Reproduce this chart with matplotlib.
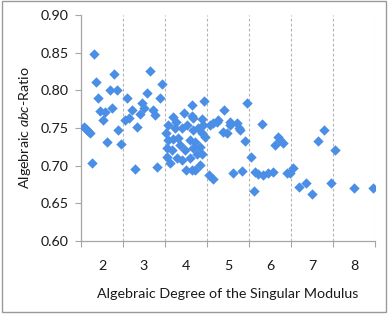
import matplotlib
matplotlib.use("Agg")
import matplotlib.pyplot as plt
from matplotlib.patches import Rectangle
from matplotlib.ticker import FixedLocator, NullFormatter

plt.rcParams['font.family'] = ['Lato', 'DejaVu Sans']
plt.rcParams['mathtext.fontset'] = 'custom'
plt.rcParams['mathtext.rm'] = 'Lato'
plt.rcParams['mathtext.it'] = 'Lato:italic'

degree = [1.57, 1.62, 1.67, 1.71, 1.76, 1.82, 1.86, 1.91, 1.96, 2.08, 2.02, 2.23, 2.18, 2.35, 2.29,
          2.13, 2.39, 2.45, 2.54, 2.64, 2.60, 2.72, 2.78, 2.84, 2.90, 2.96, 3.01, 3.08, 3.14, 3.21,
          3.26, 3.32, 3.38, 3.44, 3.68, 3.95, 4.14, 4.44, 4.14, 4.37, 4.17, 4.17, 4.29, 4.37, 4.41,
          4.21, 4.33, 4.25, 4.37, 3.70, 3.82, 4.10, 3.54, 3.66, 3.98, 4.17, 3.78, 3.90, 4.10, 3.54,
          4.14, 4.33, 4.21, 3.52, 3.57, 3.76, 3.90, 4.02, 3.62, 4.00, 4.45, 3.86, 3.74, 3.57, 4.57,
          4.65, 4.73, 4.77, 4.91, 4.89, 4.97, 5.05, 5.21, 5.25, 5.29, 5.40, 5.45, 4.55, 4.65, 5.13,
          5.34, 5.04, 5.55, 5.62, 5.64, 5.72, 5.84, 5.95, 6.06, 5.80, 6.18, 6.24, 6.30, 6.13, 6.40,
          6.48, 6.55, 6.70, 6.86, 7.00, 7.14, 7.29, 7.45, 7.55, 8.00, 8.45]

ratio = [0.751, 0.749, 0.746, 0.744, 0.704, 0.848, 0.811, 0.790, 0.773, 0.771, 0.761, 0.777, 0.800, 0.800, 0.822,
         0.731, 0.747, 0.729, 0.761, 0.763, 0.790, 0.774, 0.696, 0.751, 0.768, 0.783, 0.776, 0.797, 0.826, 0.774,
         0.767, 0.698, 0.790, 0.808, 0.764, 0.770, 0.781, 0.786, 0.766, 0.762, 0.763, 0.747, 0.750, 0.743, 0.754,
         0.732, 0.725, 0.716, 0.716, 0.736, 0.737, 0.734, 0.723, 0.721, 0.721, 0.723, 0.710, 0.708, 0.710, 0.712,
         0.694, 0.701, 0.694, 0.743, 0.734, 0.758, 0.750, 0.754, 0.704, 0.694, 0.738, 0.727, 0.750, 0.754, 0.754,
         0.756, 0.758, 0.761, 0.774, 0.745, 0.743, 0.758, 0.756, 0.750, 0.747, 0.733, 0.783, 0.688, 0.682, 0.690,
         0.693, 0.754, 0.712, 0.666, 0.692, 0.689, 0.687, 0.690, 0.691, 0.755, 0.738, 0.734, 0.730, 0.727, 0.690,
         0.690, 0.697, 0.672, 0.677, 0.663, 0.733, 0.747, 0.677, 0.721, 0.670, 0.670]

x_labels = [2, 3, 4, 5, 6, 7, 8]
x_bounds = [1.5, 2.5, 3.5, 4.5, 5.5, 6.5, 7.5, 8.5]
y_ticks = [0.60, 0.65, 0.70, 0.75, 0.80, 0.85, 0.90]

fig = plt.figure(figsize=(3.92, 3.14), dpi=100)
ax = fig.add_axes([81/392, 1-241/314, (375-81)/392, (241-15)/314])

axis_col = '#a6a6a6'
grid_col = '#b3b3b3'
text_col = '#1a1a1a'
fs = 10.3

ax.scatter(degree, ratio, marker='D', s=28, color='#4a8ee6', linewidths=0, zorder=3)

ax.set_xlim(1.5, 8.5)
ax.set_ylim(0.60, 0.90)

ax.xaxis.set_major_locator(FixedLocator(x_bounds))
ax.xaxis.set_major_formatter(NullFormatter())
ax.xaxis.set_minor_locator(FixedLocator(x_labels))
ax.set_xticklabels([str(v) for v in x_labels], minor=True)
ax.tick_params(axis='x', which='major', direction='out', length=4.5, width=0.8, color=axis_col)
ax.tick_params(axis='x', which='minor', length=0, pad=13.5, labelsize=fs, labelcolor=text_col)

ax.set_yticks(y_ticks)
ax.set_yticklabels([f'{v:.2f}' for v in y_ticks])
ax.tick_params(axis='y', direction='out', length=4, width=0.8, color=axis_col,
               labelsize=fs, labelcolor=text_col, pad=5)

ax.grid(axis='x', which='major', linestyle=(0, (2.5, 2)), color=grid_col, linewidth=0.8)
ax.set_axisbelow(True)

for side in ['top', 'right']:
    ax.spines[side].set_visible(False)
for side in ['left', 'bottom']:
    ax.spines[side].set_color(axis_col)
    ax.spines[side].set_linewidth(0.9)

ax.set_xlabel('Algebraic Degree of the Singular Modulus', fontsize=fs, color=text_col, labelpad=12)
ax.set_ylabel(r'Algebraic $\mathit{abc}$-Ratio', fontsize=fs, color=text_col, labelpad=5)

fig.patches.append(Rectangle((2/392, 1-312/314), 384/392, 311/314, transform=fig.transFigure,
                             fill=False, edgecolor='#9a9a9a', linewidth=1.0))

fig.savefig('out.png', dpi=100)
